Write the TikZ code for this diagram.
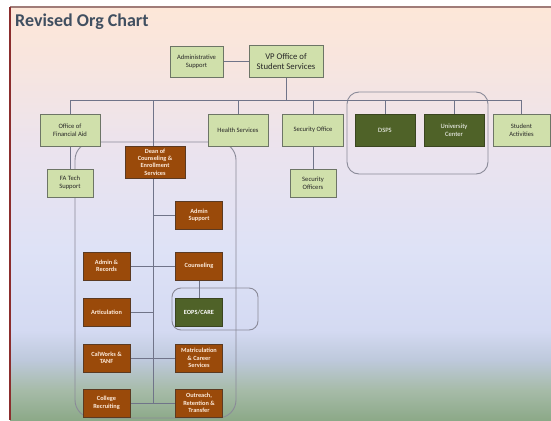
\documentclass[tikz,border=0pt]{standalone}
\usepackage{fontspec}
\setmainfont{Carlito}
\definecolor{cTop}{HTML}{FDE7D8}
\definecolor{cA}{HTML}{F8E5DE}
\definecolor{cB}{HTML}{EBE3EE}
\definecolor{cC}{HTML}{DEE2F6}
\definecolor{cD}{HTML}{D4DAF2}
\definecolor{cE}{HTML}{BEC9DC}
\definecolor{cF}{HTML}{A6BBA8}
\definecolor{cG}{HTML}{8CA988}
\definecolor{lgfill}{HTML}{D0E0AB}
\definecolor{boxline}{HTML}{6D7566}
\definecolor{dgfill}{HTML}{4F6228}
\definecolor{dgline}{HTML}{3A4520}
\definecolor{brfill}{HTML}{9A4A0A}
\definecolor{brline}{HTML}{5B3A22}
\definecolor{brtext}{HTML}{FDEADA}
\definecolor{titlec}{HTML}{404F60}
\definecolor{lnc}{HTML}{707489}
\definecolor{grpc}{HTML}{8A8A98}
\definecolor{topb}{HTML}{A07C78}
\definecolor{leftb}{HTML}{8B2D2D}
\pgfdeclareverticalshading{slidebg}{100bp}{color(0bp)=(cG); color(25bp)=(cG); color(28.6bp)=(cF); color(32.3bp)=(cE); color(35.9bp)=(cD); color(45.6bp)=(cC); color(57.7bp)=(cB); color(68.6bp)=(cA); color(75bp)=(cTop); color(100bp)=(cTop)}
\pgfdeclarelayer{bgzero}
\pgfdeclarelayer{background}
\pgfsetlayers{bgzero,background,main}
\begin{document}
\begin{tikzpicture}[x=1pt,y=-1pt,
  lg/.style={draw=boxline, fill=lgfill, line width=0.7pt, minimum width=60pt, minimum height=32pt, inner sep=0pt, align=center, font=\fontsize{6.6}{7.8}\selectfont, text=black!85},
  dg/.style={lg, fill=dgfill, draw=dgline, text=white},
  br/.style={lg, fill=brfill, draw=brline, text=brtext, font=\fontsize{6.3}{7.4}\selectfont\bfseries, minimum width=47pt, minimum height=28pt},
  conn/.style={draw=lnc, line width=0.9pt},
  grp/.style={draw=grpc, line width=0.9pt}]
\useasboundingbox (0,0) rectangle (551,420);
\begin{pgfonlayer}{bgzero}
  \fill[white] (0,0) rectangle (551,420);
  \shade[shading=slidebg] (10,7) rectangle (551,420);
  \draw[topb, line width=1.2pt] (10,7) -- (551,7);
  \draw[leftb, line width=1.2pt] (10,7) -- (10,420);
\end{pgfonlayer}
\node[anchor=west, text=titlec, font=\fontsize{18}{20}\selectfont\bfseries, inner sep=0pt] (title) at (15,22) {Revised Org Chart};
% top level
\node[lg, minimum width=53pt, minimum height=31pt] (adm) at (196.5,61.5) {Administrative\\Support};
\node[lg, minimum width=74pt, minimum height=32pt, font=\fontsize{8.7}{10.2}\selectfont] (vp) at (286,61.5) {VP Office of\\Student Services};
% second level
\node[lg] (fa) at (70,130) {Office of\\Financial Aid};
\node[lg, minimum width=46pt, minimum height=28pt] (fatech) at (70,183) {FA Tech\\Support};
\node[br, minimum width=60pt, minimum height=32pt] (dean) at (155,162) {Dean of\\Counseling \&\\Enrollment\\Services};
\node[lg] (health) at (238,130) {Health Services};
\node[lg, minimum width=61pt] (sec) at (313,130) {Security Office};
\node[lg, minimum width=46pt, minimum height=28pt] (secoff) at (313,183) {Security\\Officers};
\node[dg] (dsps) at (385,130) {DSPS};
\node[dg] (uc) at (454,130) {University\\Center};
\node[lg, minimum width=57pt] (sa) at (521.5,130) {Student\\Activities};
% counseling branch
\node[br] (admsup) at (199,215) {Admin\\Support};
\node[br] (admrec) at (106.5,266) {Admin \&\\Records};
\node[br] (couns) at (199,266) {Counseling};
\node[br] (artic) at (106.5,312) {Articulation};
\node[br, fill=dgfill, draw=dgline, text=white] (eops) at (199,312) {EOPS/CARE};
\node[br] (calw) at (106.5,358) {CalWorks \&\\TANF};
\node[br] (matric) at (199,358) {Matriculation\\\& Career\\Services};
\node[br] (college) at (106.5,403) {College\\Recruiting};
\node[br] (outreach) at (199,403) {Outreach,\\Retention \&\\Transfer};
\begin{pgfonlayer}{background}
  \draw[grp, rounded corners=18pt] (75,142) rectangle (236,418);
  \draw[grp, rounded corners=12pt] (347,92) rectangle (488,174);
  \draw[grp, rounded corners=9pt] (172,288) rectangle (258,330);
  \coordinate (bar) at (286,100);
  \coordinate (spine) at (153,100);
  \draw[conn] (vp.south) -- (vp.south|-bar);
  \draw[conn] (fa.north|-bar) -- (sa.north|-bar);
  \foreach \n in {fa,health,sec,dsps,uc,sa} \draw[conn] (\n.north) -- (\n.north|-bar);
  \draw[conn] (spine) -- (spine|-outreach);
  \draw[conn] (adm.east) -- (vp.west);
  \draw[conn] (fa.south) -- (fatech.north);
  \draw[conn] (sec.south) -- (secoff.north);
  \draw[conn] (admsup.west) -- (admsup.west-|spine);
  \draw[conn] (admrec.east) -- (couns.west);
  \draw[conn] (artic.east) -- (artic.east-|spine);
  \draw[conn] (calw.east) -- (matric.west);
  \draw[conn] (college.east) -- (outreach.west);
  \draw[conn] (couns.south) -- (eops.north);
\end{pgfonlayer}
\end{tikzpicture}
\end{document}
